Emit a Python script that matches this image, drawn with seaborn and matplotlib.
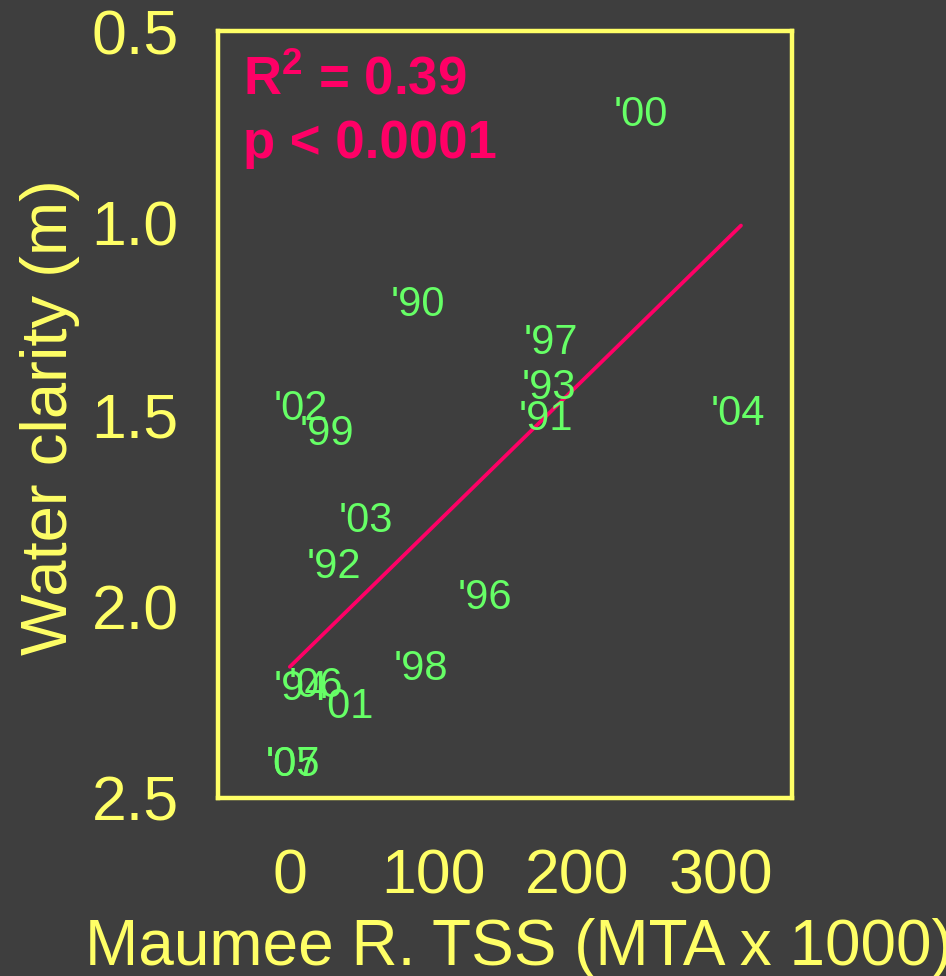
import numpy as np
import pandas as pd
import seaborn as sns
import matplotlib
matplotlib.use('Agg')
import matplotlib.pyplot as plt

# year labels and their positions (TSS load vs water clarity)
years = ["'00", "'90", "'97", "'93", "'91", "'04", "'02", "'99", "'03",
         "'92", "'96", "'98", "'94", "'06", "'01", "'05", "'07"]
tss = [244, 89, 182, 180, 178, 312, 8, 26, 53, 31, 136, 91, 8, 18, 40, 2, 2]
clarity = [0.706, 1.204, 1.303, 1.418, 1.501, 1.486, 1.473, 1.538, 1.767,
           1.887, 1.968, 2.151, 2.203, 2.195, 2.250, 2.401, 2.401]

# regression line
fit_intercept = 2.158
fit_slope = -0.003665
fit_x = [0, 314]

x_ticks = [0, 100, 200, 300]
y_ticks = [0.5, 1.0, 1.5, 2.0, 2.5]

bg = '#3e3e3e'
yellow = '#ffff66'
green = '#66ff66'
pink = '#ff0066'

sns.set_style('dark', rc={'axes.facecolor': bg, 'figure.facecolor': bg,
                          'axes.edgecolor': yellow})
plt.rcParams['font.family'] = ['Liberation Sans', 'DejaVu Sans']
plt.rcParams['mathtext.fontset'] = 'custom'
plt.rcParams['mathtext.bf'] = 'Liberation Sans:bold'
plt.rcParams['mathtext.rm'] = 'Liberation Sans'

fig = plt.figure(figsize=(9.46, 9.76), dpi=100)
ax = fig.add_axes([0.2304, 0.1824, 0.6068, 0.7858])

fit = pd.DataFrame({'x': fit_x})
fit['y'] = fit_intercept + fit_slope * fit['x']
sns.lineplot(data=fit, x='x', y='y', color=pink, linewidth=2.7, ax=ax)

for lab, x, y in zip(years, tss, clarity):
    ax.text(x, y, lab, color=green, fontsize=30, ha='center',
            va='center_baseline')

ax.text(0.043, 0.9166, r'R$^{\mathbf{2}}$ = 0.39', transform=ax.transAxes,
        color=pink, fontsize=38, fontweight='bold', va='baseline')
ax.text(0.043, 0.834, 'p < 0.0001', transform=ax.transAxes, color=pink,
        fontsize=38, fontweight='bold', va='baseline')

ax.set_xlim(-50, 349.5)
ax.set_ylim(2.5, 0.5)
ax.set_xticks(x_ticks)
ax.set_yticks(y_ticks)
ax.set_yticklabels([f'{v:.1f}' for v in y_ticks])
ax.tick_params(axis='x', direction='inout', length=7.7, width=1, color=yellow,
               labelcolor=yellow, labelsize=45, pad=32)
ax.tick_params(axis='y', direction='inout', length=9.4, width=3, color=yellow,
               labelcolor=yellow, labelsize=45, pad=23.5)
for s in ax.spines.values():
    s.set_visible(True)
    s.set_color(yellow)
    s.set_linewidth(3.2)
ax.grid(False)

ax.set_xlabel('Maumee R. TSS (MTA x 1000)', color=yellow, fontsize=46)
ax.set_ylabel('Water clarity (m)', color=yellow, fontsize=47)
ax.xaxis.set_label_coords(0.5245, -0.157)
ax.yaxis.set_label_coords(-0.241, 0.497)

fig.savefig('out.png', dpi=100, facecolor=bg)
